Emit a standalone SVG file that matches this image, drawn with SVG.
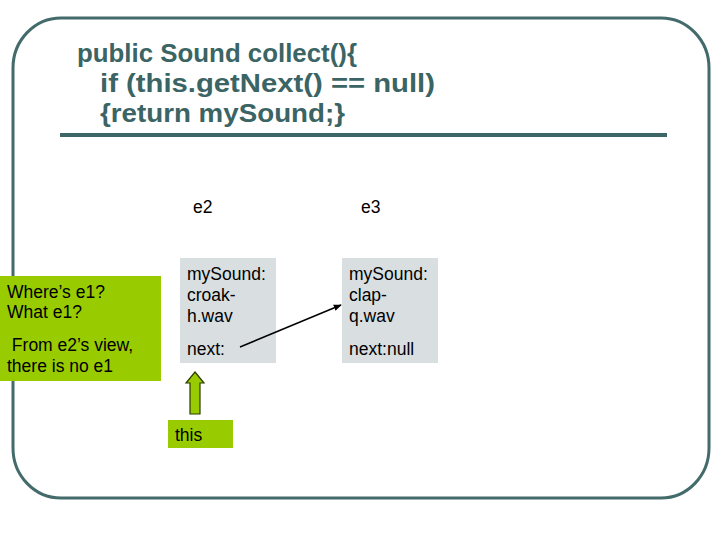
<svg xmlns="http://www.w3.org/2000/svg" width="720" height="540" viewBox="0 0 720 540">
<style>
.title{font-family:"Liberation Sans",Arial,sans-serif;font-weight:bold;font-size:26px;fill:#3b6464}
.t{font-family:"Liberation Sans",Arial,sans-serif;font-size:17.5px;fill:#000}
.box{fill:#d9dfe0}
.green{fill:#99cc00}
</style>
<defs>
<marker id="ah" viewBox="0 0 10 10" refX="9" refY="5" markerWidth="8" markerHeight="8" orient="auto" markerUnits="userSpaceOnUse">
<path d="M0,1 L10,5 L0,9 z" fill="#000"/>
</marker>
</defs>
<rect width="720" height="540" fill="#fff"/>
<rect x="13" y="18" width="696" height="480" rx="48" ry="50" fill="none" stroke="#436b6b" stroke-width="3"/>
<line x1="60" y1="135" x2="667" y2="135" stroke="#3d6666" stroke-width="4"/>
<g id="code">
<text class="title" x="77" y="62" textLength="280" lengthAdjust="spacingAndGlyphs">public Sound collect(){</text>
<text class="title" x="100" y="92" textLength="335" lengthAdjust="spacingAndGlyphs">if (this.getNext() == null)</text>
<text class="title" x="100" y="122" textLength="245" lengthAdjust="spacingAndGlyphs">{return mySound;}</text>
</g>
<g id="e2">
<text class="t" x="193" y="213">e2</text>
<rect class="box" x="180" y="258" width="96" height="105"/>
<text class="t" x="187" y="280">mySound:</text>
<text class="t" x="187" y="301">croak-</text>
<text class="t" x="187" y="322">h.wav</text>
<text class="t" x="187" y="355">next:</text>
</g>
<g id="e3">
<text class="t" x="361" y="213">e3</text>
<rect class="box" x="342" y="258" width="96" height="105"/>
<text class="t" x="349" y="280">mySound:</text>
<text class="t" x="349" y="301">clap-</text>
<text class="t" x="349" y="322">q.wav</text>
<text class="t" x="349" y="355">next:null</text>
</g>
<g id="note">
<rect class="green" x="0" y="276" width="161" height="105"/>
<text class="t" x="7" y="298">Where’s e1?</text>
<text class="t" x="7" y="318">What e1?</text>
<text class="t" x="7" y="351" xml:space="preserve"> From e2’s view,</text>
<text class="t" x="7" y="372">there is no e1</text>
</g>
<g id="this">
<rect class="green" x="168" y="420" width="65" height="28"/>
<text class="t" x="175" y="441">this</text>
</g>
<g id="connectors">
<line x1="240" y1="347" x2="341" y2="305" stroke="#000" stroke-width="1.5" marker-end="url(#ah)"/>
<path d="M195,372 L204,383 L200,383 L200,414 L190,414 L190,383 L186,383 Z" fill="#99cc00" stroke="#2b3b00" stroke-width="1.2"/>
</g>
</svg>
